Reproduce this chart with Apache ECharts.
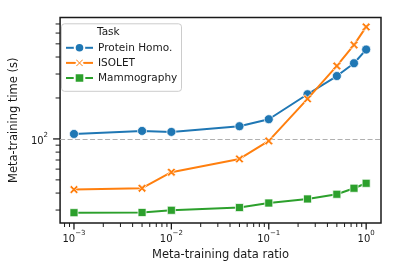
<!DOCTYPE html>
<html><head><meta charset="utf-8">
<script src="https://cdn.jsdelivr.net/npm/echarts@6/dist/echarts.min.js"></script>
<style>html,body{margin:0;padding:0;background:#fff}#c{width:399px;height:275px}</style>
</head><body><div id="c"></div>
<script>
const ratios = [0.001, 0.005, 0.01, 0.05, 0.1, 0.25, 0.5, 0.75, 1.0];
const proteinHomo = [108.8, 114.5, 112.6, 124, 139.6, 213, 290, 360, 454];
const isolet = [42.4, 43.4, 56.9, 71.3, 96.7, 197, 344, 491, 666];
const mammography = [28.7, 28.8, 29.9, 31.3, 33.8, 36.2, 39.2, 43.4, 47.2];
const seriesNames = ['Protein Homo.', 'ISOLET', 'Mammography'];
const legendTitle = 'Task';
const xTitle = 'Meta-training data ratio';
const yTitle = 'Meta-training time (s)';
const xMajorTicks = [0.001, 0.01, 0.1, 1];
const xMinorTicks = [0.0008, 0.0009, 0.002, 0.003, 0.004, 0.005, 0.006, 0.007, 0.008, 0.009,
  0.02, 0.03, 0.04, 0.05, 0.06, 0.07, 0.08, 0.09, 0.2, 0.3, 0.4, 0.5, 0.6, 0.7, 0.8, 0.9];
const yMajorTicks = [100];
const yMinorTicks = [30, 40, 50, 60, 70, 80, 90, 200, 300, 400, 500, 600, 700];
const refLine = 100;

const FONT = 'DejaVu Sans';
const INK = '#1a1a1a';
const colors = ['#1f77b4', '#ff7f0e', '#2ca02c'];
const xPath = 'path://M0 2L2 0L5 3L8 0L10 2L7 5L10 8L8 10L5 7L2 10L0 8L3 5Z';
const symbols = ['circle', xPath, 'rect'];
const symSizes = [9, 8.5, 8];
const values = [proteinHomo, isolet, mammography];

function sciLabel(v) {
  const e = Math.log10(v);
  const r = Math.round(e);
  if (Math.abs(e - r) > 1e-6) return '';
  return '{b|10}{s|' + (r < 0 ? '\u2212' : '') + Math.abs(r) + '}';
}
const richLbl = {
  b: { fontSize: 10, fontFamily: FONT, color: INK, verticalAlign: 'bottom', lineHeight: 14 },
  s: { fontSize: 7, fontFamily: FONT, color: INK, verticalAlign: 'top' }
};

const chart = echarts.init(document.getElementById('c'), null, { renderer: 'canvas' });

const lineSeries = seriesNames.map((n, i) => ({
  name: n, type: 'line',
  data: ratios.map((r, k) => [r, values[i][k]]),
  symbol: symbols[i], symbolSize: symSizes[i], showSymbol: true,
  lineStyle: { width: 2, color: colors[i] },
  itemStyle: { color: colors[i], borderColor: '#fff', borderWidth: 0.7 },
  emphasis: { disabled: true },
  z: 3 + i,
  markLine: i === 0 ? {
    silent: true, symbol: 'none', label: { show: false },
    lineStyle: { color: '#b0b0b0', type: [5, 2.5], width: 1.2 },
    data: [{ yAxis: refLine }], z: 1
  } : undefined
}));

const xTickSeries = {
  type: 'custom', silent: true, clip: false, z: 10,
  data: xMajorTicks.map(v => [v, refLine, 1]).concat(xMinorTicks.map(v => [v, refLine, 0])),
  renderItem: (params, api) => {
    const cs = params.coordSys;
    const x = api.coord([api.value(0), refLine])[0];
    const y0 = cs.y + cs.height;
    const major = api.value(2) === 1;
    return { type: 'line', shape: { x1: x, y1: y0, x2: x, y2: y0 + (major ? 6.5 : 4) },
      style: { stroke: INK, lineWidth: major ? 1.3 : 1 } };
  }
};
const yTickSeries = {
  type: 'custom', silent: true, clip: false, z: 10,
  data: yMajorTicks.map(v => [0.01, v, 1]).concat(yMinorTicks.map(v => [0.01, v, 0])),
  renderItem: (params, api) => {
    const cs = params.coordSys;
    const y = api.coord([0.01, api.value(1)])[1];
    const x0 = cs.x;
    const major = api.value(2) === 1;
    return { type: 'line', shape: { x1: x0, y1: y, x2: x0 - (major ? 7 : 4.5), y2: y },
      style: { stroke: INK, lineWidth: major ? 1.3 : 1 } };
  }
};

chart.setOption({
  animation: false,
  backgroundColor: '#fff',
  grid: { left: 57, right: 18, top: 17.5, bottom: 52, show: true, borderColor: INK, borderWidth: 1.5, backgroundColor: 'transparent' },
  xAxis: {
    type: 'log', logBase: 10, min: 0.00072, max: 1.42,
    axisLine: { show: false }, axisTick: { show: false }, splitLine: { show: false },
    minorTick: { show: false },
    axisLabel: { formatter: sciLabel, rich: richLbl, margin: 7, showMinLabel: false, showMaxLabel: false },
    name: xTitle, nameLocation: 'middle', nameGap: 23,
    nameTextStyle: { fontSize: 11.5, fontFamily: FONT, color: INK }
  },
  yAxis: {
    type: 'log', logBase: 10, min: 24.1, max: 781,
    axisLine: { show: false }, axisTick: { show: false }, splitLine: { show: false },
    minorTick: { show: false },
    axisLabel: { formatter: sciLabel, rich: richLbl, margin: 12, showMinLabel: false, showMaxLabel: false },
    name: yTitle, nameLocation: 'middle', nameGap: 33,
    nameTextStyle: { fontSize: 11.5, fontFamily: FONT, color: INK }
  },
  legend: {
    orient: 'vertical', left: 65, top: 42, padding: 0, z: 20,
    itemWidth: 27, itemHeight: 12, itemGap: 3.5,
    data: seriesNames, selectedMode: false,
    textStyle: { fontSize: 10.5, fontFamily: FONT, color: INK }
  },
  graphic: [
    { type: 'rect', left: 61, top: 23.3, z: 1, silent: true,
      shape: { width: 120, height: 67.5, r: 3 },
      style: { fill: 'rgba(255,255,255,0.85)', stroke: '#cccccc', lineWidth: 1 } },
    { type: 'text', left: 97, top: 27, z: 2, silent: true,
      style: { text: legendTitle, fontSize: 10.5, fontFamily: FONT, fill: INK } }
  ],
  series: lineSeries.concat([xTickSeries, yTickSeries])
});
</script></body></html>
